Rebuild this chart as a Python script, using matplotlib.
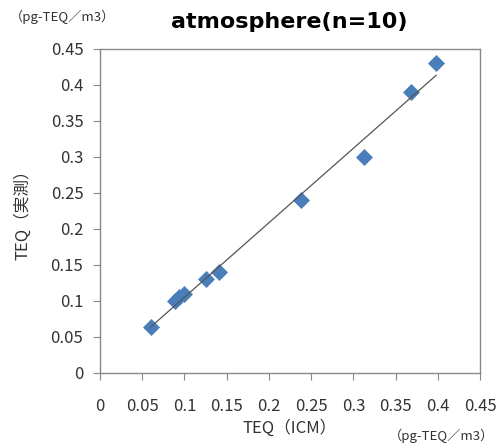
import numpy as np
import matplotlib.pyplot as plt

# TEQ values (pg-TEQ/m3)
icm = [0.06, 0.089, 0.094, 0.099, 0.125, 0.141, 0.238, 0.313, 0.368, 0.398]
measured = [0.064, 0.10, 0.105, 0.11, 0.13, 0.14, 0.24, 0.30, 0.39, 0.43]
ticks = [0, 0.05, 0.1, 0.15, 0.2, 0.25, 0.3, 0.35, 0.4, 0.45]
tick_labels = ['0', '0.05', '0.1', '0.15', '0.2', '0.25', '0.3', '0.35', '0.4', '0.45']

jp = ['Noto Sans CJK JP', 'DejaVu Sans']
plt.rcParams['font.family'] = jp

fig = plt.figure(figsize=(4.99, 4.45), dpi=100)
ax = fig.add_axes([0.2004, 0.1618, 0.7616, 0.7281])

ax.scatter(icm, measured, marker='D', s=75, color='#4A7EBB', zorder=3, linewidths=0)

# linear trend line
slope, inter = np.polyfit(icm, measured, 1)
xs = np.array([min(icm), max(icm)])
ax.plot(xs, slope * xs + inter, color='#555555', lw=0.9, zorder=4)

ax.set_xlim(0, 0.45)
ax.set_ylim(0, 0.45)
ax.set_xticks(ticks)
ax.set_xticklabels(tick_labels)
ax.set_yticks(ticks)
ax.set_yticklabels(tick_labels)
ax.tick_params(direction='out', length=5, color='#888888', labelsize=12,
               labelcolor='#333333')
ax.tick_params(axis='x', pad=13)
ax.tick_params(axis='y', pad=7)
for s in ax.spines.values():
    s.set_color('#888888')
    s.set_linewidth(1)

ax.set_xlabel('TEQ（ICM）', fontsize=12, color='#333333', labelpad=3)
ax.set_ylabel('TEQ（実測）', fontsize=12, color='#333333', labelpad=14)

fig.text(0.58, 0.95, 'atmosphere(n=10)', ha='center', va='center',
         fontsize=16, fontweight='bold', family='DejaVu Sans')
fig.text(0.02, 0.962, '（pg-TEQ／m3）', ha='left', va='center', fontsize=9.5,
         color='#333333')
fig.text(0.99, 0.02, '（pg-TEQ／m3）', ha='right', va='center', fontsize=9.5,
         color='#333333')

fig.savefig('out.png', dpi=100)
